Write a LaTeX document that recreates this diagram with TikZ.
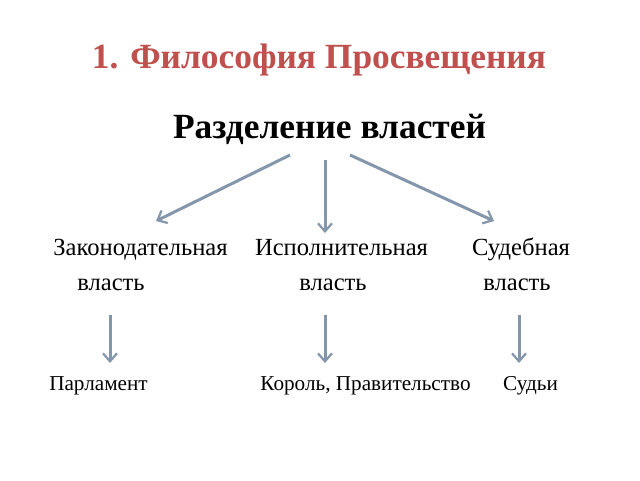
\documentclass[tikz,border=0pt]{standalone}
\usepackage{fontspec}
\setmainfont{Liberation Serif}
\usetikzlibrary{arrows.meta}
\definecolor{titlered}{HTML}{C0504D}
\definecolor{arrowgray}{HTML}{8496AB}
\begin{document}
\begin{tikzpicture}[x=1pt,y=-1pt,
  arr/.style={draw=arrowgray,line width=3pt,-{Straight Barb[length=8pt,width=14pt,line width=2.2pt]}},
  lbl/.style={font=\fontsize{24.6}{29}\selectfont,anchor=base,inner sep=0pt},
  sml/.style={font=\fontsize{21.2}{25}\selectfont,anchor=base,inner sep=0pt}]
\useasboundingbox (0,0) rectangle (640,480);
\node[anchor=base,inner sep=0pt,text=titlered,font=\fontsize{35.4}{42}\selectfont\bfseries] (title) at (319,68) {1. Философия Просвещения};
\node[anchor=base,inner sep=0pt,font=\fontsize{35.4}{42}\selectfont\bfseries] (sub) at (329.5,138) {Разделение властей};
\node[lbl] (z1) at (140.5,255.5) {Законодательная};
\node[lbl] (z2) at (111,290.5) {власть};
\node[lbl] (i1) at (341.5,255.5) {Исполнительная};
\node[lbl] (i2) at (333,290.5) {власть};
\node[lbl] (s1) at (521,255.5) {Судебная};
\node[lbl] (s2) at (517,290.5) {власть};
\node[sml] (p) at (98.5,390.5) {Парламент};
\node[sml] (k) at (365.5,390.5) {Король, Правительство};
\node[sml] (j) at (530.5,390.5) {Судьи};
\coordinate (a1s) at (290,155); \coordinate (a1e) at (156,221);
\coordinate (a2s) at (325,160); \coordinate (a2e) at (325,233);
\coordinate (a3s) at (350,155); \coordinate (a3e) at (494,221);
\coordinate (b1s) at (110,315); \coordinate (b1e) at (110,363);
\coordinate (b2s) at (325,315); \coordinate (b2e) at (325,363);
\coordinate (b3s) at (519,315); \coordinate (b3e) at (519,363);
\draw[arr] (a1s) -- (a1e);
\draw[arr] (a2s) -- (a2e);
\draw[arr] (a3s) -- (a3e);
\draw[arr] (b1s) -- (b1e);
\draw[arr] (b2s) -- (b2e);
\draw[arr] (b3s) -- (b3e);
\end{tikzpicture}
\end{document}
